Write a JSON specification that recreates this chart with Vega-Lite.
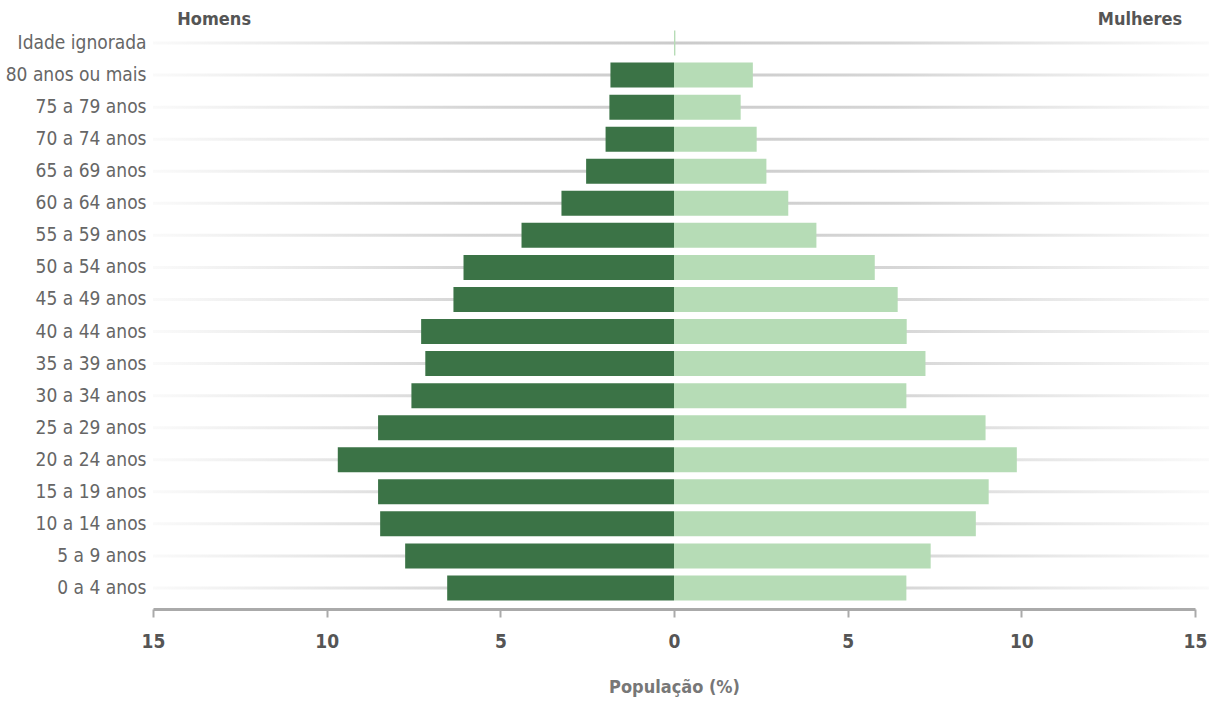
{
  "$schema": "https://vega.github.io/schema/vega-lite/v6.json",
  "width": 1042,
  "height": 577,
  "padding": {"left": 5, "top": 11, "right": 5, "bottom": 5},
  "config": {"view": {"stroke": null}, "font": "DejaVu Sans Condensed"},
  "datasets": {
    "faixas": [
      {"faixa": "Idade ignorada"}, {"faixa": "80 anos ou mais"}, {"faixa": "75 a 79 anos"}, {"faixa": "70 a 74 anos"},
      {"faixa": "65 a 69 anos"}, {"faixa": "60 a 64 anos"}, {"faixa": "55 a 59 anos"}, {"faixa": "50 a 54 anos"},
      {"faixa": "45 a 49 anos"}, {"faixa": "40 a 44 anos"}, {"faixa": "35 a 39 anos"}, {"faixa": "30 a 34 anos"},
      {"faixa": "25 a 29 anos"}, {"faixa": "20 a 24 anos"}, {"faixa": "15 a 19 anos"}, {"faixa": "10 a 14 anos"},
      {"faixa": "5 a 9 anos"}, {"faixa": "0 a 4 anos"}
    ],
    "pop": [
      {"faixa": "Idade ignorada", "sexo": "Homens", "pct": 0},
      {"faixa": "80 anos ou mais", "sexo": "Homens", "pct": -1.83},
      {"faixa": "75 a 79 anos", "sexo": "Homens", "pct": -1.86},
      {"faixa": "70 a 74 anos", "sexo": "Homens", "pct": -1.97},
      {"faixa": "65 a 69 anos", "sexo": "Homens", "pct": -2.53},
      {"faixa": "60 a 64 anos", "sexo": "Homens", "pct": -3.24},
      {"faixa": "55 a 59 anos", "sexo": "Homens", "pct": -4.39},
      {"faixa": "50 a 54 anos", "sexo": "Homens", "pct": -6.06},
      {"faixa": "45 a 49 anos", "sexo": "Homens", "pct": -6.35},
      {"faixa": "40 a 44 anos", "sexo": "Homens", "pct": -7.28},
      {"faixa": "35 a 39 anos", "sexo": "Homens", "pct": -7.16},
      {"faixa": "30 a 34 anos", "sexo": "Homens", "pct": -7.56},
      {"faixa": "25 a 29 anos", "sexo": "Homens", "pct": -8.52},
      {"faixa": "20 a 24 anos", "sexo": "Homens", "pct": -9.68},
      {"faixa": "15 a 19 anos", "sexo": "Homens", "pct": -8.52},
      {"faixa": "10 a 14 anos", "sexo": "Homens", "pct": -8.46},
      {"faixa": "5 a 9 anos", "sexo": "Homens", "pct": -7.74},
      {"faixa": "0 a 4 anos", "sexo": "Homens", "pct": -6.53},
      {"faixa": "Idade ignorada", "sexo": "Mulheres", "pct": 0.04},
      {"faixa": "80 anos ou mais", "sexo": "Mulheres", "pct": 2.27},
      {"faixa": "75 a 79 anos", "sexo": "Mulheres", "pct": 1.92},
      {"faixa": "70 a 74 anos", "sexo": "Mulheres", "pct": 2.38},
      {"faixa": "65 a 69 anos", "sexo": "Mulheres", "pct": 2.66},
      {"faixa": "60 a 64 anos", "sexo": "Mulheres", "pct": 3.29},
      {"faixa": "55 a 59 anos", "sexo": "Mulheres", "pct": 4.10},
      {"faixa": "50 a 54 anos", "sexo": "Mulheres", "pct": 5.78},
      {"faixa": "45 a 49 anos", "sexo": "Mulheres", "pct": 6.44},
      {"faixa": "40 a 44 anos", "sexo": "Mulheres", "pct": 6.70},
      {"faixa": "35 a 39 anos", "sexo": "Mulheres", "pct": 7.24},
      {"faixa": "30 a 34 anos", "sexo": "Mulheres", "pct": 6.69},
      {"faixa": "25 a 29 anos", "sexo": "Mulheres", "pct": 8.97},
      {"faixa": "20 a 24 anos", "sexo": "Mulheres", "pct": 9.87},
      {"faixa": "15 a 19 anos", "sexo": "Mulheres", "pct": 9.06},
      {"faixa": "10 a 14 anos", "sexo": "Mulheres", "pct": 8.69},
      {"faixa": "5 a 9 anos", "sexo": "Mulheres", "pct": 7.39},
      {"faixa": "0 a 4 anos", "sexo": "Mulheres", "pct": 6.69}
    ],
    "rotulos": [
      {"rotulo": "Homens"},
      {"rotulo": "Mulheres"}
    ]
  },
  "encoding": {
    "y": {
      "field": "faixa",
      "type": "nominal",
      "sort": ["Idade ignorada", "80 anos ou mais", "75 a 79 anos", "70 a 74 anos", "65 a 69 anos", "60 a 64 anos", "55 a 59 anos", "50 a 54 anos", "45 a 49 anos", "40 a 44 anos", "35 a 39 anos", "30 a 34 anos", "25 a 29 anos", "20 a 24 anos", "15 a 19 anos", "10 a 14 anos", "5 a 9 anos", "0 a 4 anos"],
      "scale": {"paddingInner": 0.22, "paddingOuter": 0.11},
      "axis": {
        "title": null, "domain": false, "ticks": false, "grid": false,
        "labelPadding": 7, "labelFontSize": 19, "labelColor": "#666666",
        "minExtent": 148, "maxExtent": 148
      }
    }
  },
  "layer": [
    {
      "data": {"name": "faixas"},
      "mark": {
        "type": "bar", "height": 3, "clip": false,
        "color": {"gradient": "linear", "x1": 0, "y1": 0, "x2": 1, "y2": 0,
          "stops": [
            {"offset": 0, "color": "#fafafa"},
            {"offset": 0.3, "color": "#d6d6d6"},
            {"offset": 0.5, "color": "#cbcbcb"},
            {"offset": 0.7, "color": "#d6d6d6"},
            {"offset": 1, "color": "#fafafa"}
          ]}
      },
      "encoding": {
        "x": {"datum": -15, "type": "quantitative"},
        "x2": {"datum": 15.4}
      }
    },
    {
      "data": {"name": "pop"},
      "mark": {"type": "bar"},
      "encoding": {
        "x": {
          "field": "pct", "type": "quantitative",
          "scale": {"domain": [-15, 15], "nice": false},
          "axis": {
            "values": [-15, -10, -5, 0, 5, 10, 15],
            "labelExpr": "abs(datum.value)",
            "labelFlush": false,
            "grid": false,
            "offset": 5,
            "domainColor": "#aaaaaa", "domainWidth": 3,
            "tickColor": "#aaaaaa", "tickWidth": 2, "tickSize": 8,
            "labelFontSize": 19, "labelFontWeight": "bold", "labelColor": "#555555", "labelPadding": 15,
            "title": "População (%)", "titleFontSize": 18, "titleFontWeight": "bold", "titleColor": "#777777", "titlePadding": 27
          }
        },
        "color": {
          "field": "sexo", "type": "nominal",
          "scale": {"domain": ["Homens", "Mulheres"], "range": ["#3b7346", "#b6dcb6"]},
          "legend": null
        }
      }
    },
    {
      "data": {"name": "rotulos"},
      "transform": [{"filter": "datum.rotulo == 'Homens'"}],
      "mark": {"type": "text", "align": "left", "baseline": "middle", "dy": -23, "fontSize": 18, "fontWeight": "bold", "color": "#555555"},
      "encoding": {
        "text": {"field": "rotulo"},
        "x": {"datum": -14.3, "type": "quantitative"},
        "y": {"datum": "Idade ignorada"}
      }
    },
    {
      "data": {"name": "rotulos"},
      "transform": [{"filter": "datum.rotulo == 'Mulheres'"}],
      "mark": {"type": "text", "align": "right", "baseline": "middle", "dy": -23, "fontSize": 18, "fontWeight": "bold", "color": "#555555"},
      "encoding": {
        "text": {"field": "rotulo"},
        "x": {"datum": 14.63, "type": "quantitative"},
        "y": {"datum": "Idade ignorada"}
      }
    }
  ]
}
